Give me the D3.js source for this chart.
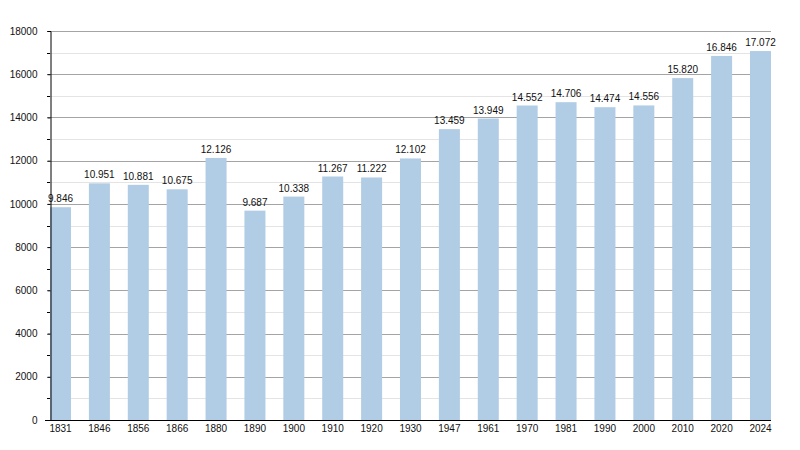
<!DOCTYPE html>
<html>
<head>
<meta charset="utf-8">
<script src="https://cdn.jsdelivr.net/npm/d3@7"></script>
<style>
  body { margin: 0; background: #fff; }
  svg text { font-family: "Liberation Sans", Arial, sans-serif; fill: #111; }
</style>
</head>
<body>
<svg id="chart" width="800" height="450"></svg>
<script>
const years = ["1831","1846","1856","1866","1880","1890","1900","1910","1920","1930","1947","1961","1970","1981","1990","2000","2010","2020","2024"];
const population = [9846,10951,10881,10675,12126,9687,10338,11267,11222,12102,13459,13949,14552,14706,14474,14556,15820,16846,17072];
const majorTicks = [0,2000,4000,6000,8000,10000,12000,14000,16000,18000];
const minorTicks = [1000,3000,5000,7000,9000,11000,13000,15000,17000];

(function () {
const svg = d3.select("#chart");
const mLeft = 50, mRight = 771, mTop = 31, mBottom = 420;

const x = d3.scaleBand().domain(years).range([mLeft, mRight]).paddingInner(0.46).paddingOuter(0).align(0);
const y = d3.scaleLinear().domain([0, 18000]).range([mBottom, mTop]);

const fmt = v => d3.format(",")(v).replace(/,/g, ".");

// minor gridlines
svg.append("g").selectAll("line").data(minorTicks).join("line")
  .attr("x1", mLeft).attr("x2", mRight)
  .attr("y1", d => Math.round(y(d)) + 0.5).attr("y2", d => Math.round(y(d)) + 0.5)
  .attr("stroke", "#e4e4e4").attr("stroke-width", 1);

// major gridlines
svg.append("g").selectAll("line").data(majorTicks.filter(d => d > 0)).join("line")
  .attr("x1", mLeft - 3).attr("x2", mRight)
  .attr("y1", d => Math.round(y(d)) + 0.5).attr("y2", d => Math.round(y(d)) + 0.5)
  .attr("stroke", "#a4a4a4").attr("stroke-width", 1);

// bars
const defs = svg.append("defs");
defs.append("filter").attr("id", "soft").attr("x", "-20%").attr("width", "140%")
  .append("feGaussianBlur").attr("stdDeviation", "0.6 0");

svg.append("g").selectAll("rect").data(years).join("rect")
  .attr("x", d => x(d))
  .attr("width", x.bandwidth())
  .attr("y", (d, i) => y(population[i]))
  .attr("height", (d, i) => mBottom - y(population[i]))
  .attr("fill", "#b1cce5")
  .attr("filter", "url(#soft)");

// value labels
svg.append("g").selectAll("text").data(years).join("text")
  .attr("x", d => x(d) + x.bandwidth() / 2)
  .attr("y", (d, i) => y(population[i]) - 5)
  .attr("text-anchor", "middle")
  .attr("font-size", 10)
  .text((d, i) => fmt(population[i]));

// y axis
const yAxis = svg.append("g").attr("transform", `translate(${mLeft + 0.5},0)`)
  .call(d3.axisLeft(y).tickValues(majorTicks).tickSize(3).tickFormat(d3.format("d")));
yAxis.select(".domain").attr("stroke", "#000");
yAxis.selectAll(".tick line").attr("stroke", "#000");
yAxis.selectAll(".tick text").attr("font-size", 10).attr("x", -13)
  .attr("font-family", "Liberation Sans, Arial, sans-serif").attr("fill", "#111");
svg.append("g").selectAll("line").data(minorTicks).join("line")
  .attr("x1", mLeft - 3).attr("x2", mLeft)
  .attr("y1", d => Math.round(y(d)) + 0.5).attr("y2", d => Math.round(y(d)) + 0.5)
  .attr("stroke", "#000");

// x axis
svg.append("line").attr("x1", mLeft - 5).attr("x2", mRight)
  .attr("y1", mBottom + 0.5).attr("y2", mBottom + 0.5).attr("stroke", "#000");
svg.append("g").selectAll("text").data(years).join("text")
  .attr("x", d => x(d) + x.bandwidth() / 2)
  .attr("y", mBottom + 12)
  .attr("text-anchor", "middle")
  .attr("font-size", 10)
  .text(d => d);
})();
</script>
</body>
</html>
